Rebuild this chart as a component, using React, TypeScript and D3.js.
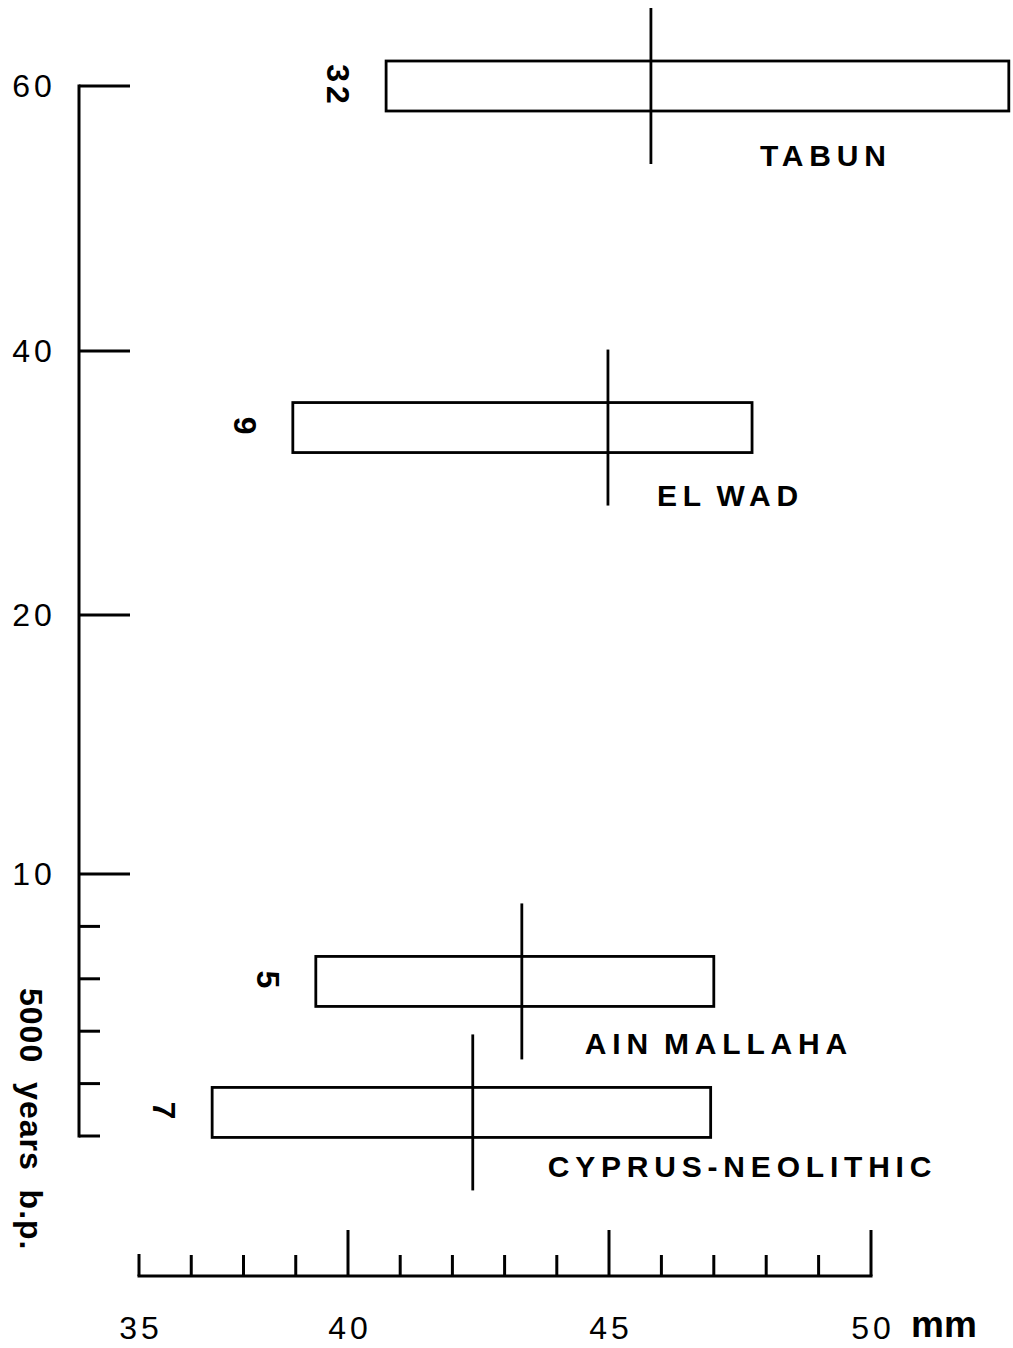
import React from 'react';
import * as d3 from 'd3';

// ---- data ----
const sites = ['TABUN', 'EL WAD', 'AIN MALLAHA', 'CYPRUS-NEOLITHIC'];
const sampleSizes = [32, 9, 5, 7];
const ageKa = [60, 34.2, 7.95, 5.45]; // thousand years b.p. (bar centre)
const minMm = [40.73, 38.68, 39.23, 36.75];
const maxMm = [52.63, 47.73, 47.0, 46.94];
const meanMm = [45.8, 44.98, 43.33, 42.39];

const yMajorTicks = [60, 40, 20, 10];
const yMinorTicks = [9, 8, 7, 6, 5];
const xMajorTicks = [35, 40, 45, 50];
const xMinorTicks = [36.25, 37.5, 38.75, 41, 42, 43, 44, 46, 47, 48, 49];

const W = 1013;
const H = 1348;
const FONT = '"Liberation Sans", Arial, Helvetica, sans-serif';

// layout for site labels (px offsets from mean line / bar centre)
const labelDx = [109, 49, 63, 75];
const labelDy = [80, 78, 73, 65];

export default function App() {
  const y = d3.scaleLinear().domain([5, 10, 20, 40, 60]).range([1136, 874, 615, 351, 86]);
  const x = d3.scaleLinear().domain([35, 40, 45, 50]).range([139, 348, 609, 871]);

  const axisX = 79;
  const xAxisY = 1276;
  const barHalf = 25;
  const meanHalf = 78;

  const rows = sites.map((s, i) => ({
    site: s,
    n: sampleSizes[i],
    age: ageKa[i],
    min: minMm[i],
    max: maxMm[i],
    mean: meanMm[i],
    dx: labelDx[i],
    dy: labelDy[i],
  }));

  return (
    <svg
      width={W}
      height={H}
      viewBox={`0 0 ${W} ${H}`}
      style={{ position: 'absolute', left: 0, top: 0, background: '#fff', display: 'block' }}
      fontFamily={FONT}
    >
      <rect x={0} y={0} width={W} height={H} fill="#fff" />

      {/* Y axis */}
      <g stroke="#000" strokeWidth={3} fill="none">
        <line x1={axisX} x2={axisX} y1={y(60) - 1.5} y2={y(5) + 1.5} />
        {yMajorTicks.map((t) => (
          <line key={'ym' + t} x1={axisX} x2={axisX + 51} y1={y(t)} y2={y(t)} />
        ))}
        {yMinorTicks.map((t) => (
          <line key={'yn' + t} x1={axisX} x2={axisX + 21} y1={y(t)} y2={y(t)} />
        ))}
      </g>
      {yMajorTicks.map((t) => (
        <text
          key={'yl' + t}
          x={34}
          y={y(t)}
          textAnchor="middle"
          dominantBaseline="central"
          fontSize={32}
          letterSpacing={4}
          fill="#000"
        >
          {t}
        </text>
      ))}
      <text
        transform={`translate(31, 988) rotate(90)`}
        textAnchor="start"
        dominantBaseline="central"
        fontSize={32}
        fontWeight="bold"
        letterSpacing={1}
        wordSpacing={9}
        fill="#000"
      >
        5000 years b.p.
      </text>

      {/* X axis */}
      <g stroke="#000" strokeWidth={3} fill="none">
        <line x1={x(35) - 1.5} x2={x(50) + 1.5} y1={xAxisY} y2={xAxisY} />
        {xMajorTicks.map((t, i) => (
          <line
            key={'xm' + t}
            x1={x(t)}
            x2={x(t)}
            y1={xAxisY}
            y2={xAxisY - (i === 0 ? 22 : 46)}
          />
        ))}
        {xMinorTicks.map((t) => (
          <line key={'xn' + t} x1={x(t)} x2={x(t)} y1={xAxisY} y2={xAxisY - 21} />
        ))}
      </g>
      {xMajorTicks.map((t) => (
        <text
          key={'xl' + t}
          x={x(t) + 2}
          y={1339}
          textAnchor="middle"
          fontSize={32}
          letterSpacing={4}
          fill="#000"
        >
          {t}
        </text>
      ))}
      <text x={911} y={1337} fontSize={37} fontWeight="bold" fill="#000">
        mm
      </text>

      {/* bars */}
      {rows.map((r) => {
        const cy = y(r.age);
        return (
          <g key={r.site}>
            <rect
              x={x(r.min)}
              y={cy - barHalf}
              width={x(r.max) - x(r.min)}
              height={barHalf * 2}
              fill="none"
              stroke="#000"
              strokeWidth={2.8}
            />
            <line
              x1={x(r.mean)}
              x2={x(r.mean)}
              y1={cy - meanHalf}
              y2={cy + meanHalf}
              stroke="#000"
              strokeWidth={2.8}
            />
            <text
              transform={`translate(${x(r.min) - 48}, ${cy}) rotate(90)`}
              textAnchor="middle"
              dominantBaseline="central"
              fontSize={32}
              fontWeight="bold"
              letterSpacing={4}
              fill="#000"
            >
              {r.n}
            </text>
            <text
              x={x(r.mean) + r.dx}
              y={cy + r.dy}
              fontSize={30}
              fontWeight="bold"
              letterSpacing={5.8}
              wordSpacing={-4}
              fill="#000"
            >
              {r.site}
            </text>
          </g>
        );
      })}
    </svg>
  );
}
